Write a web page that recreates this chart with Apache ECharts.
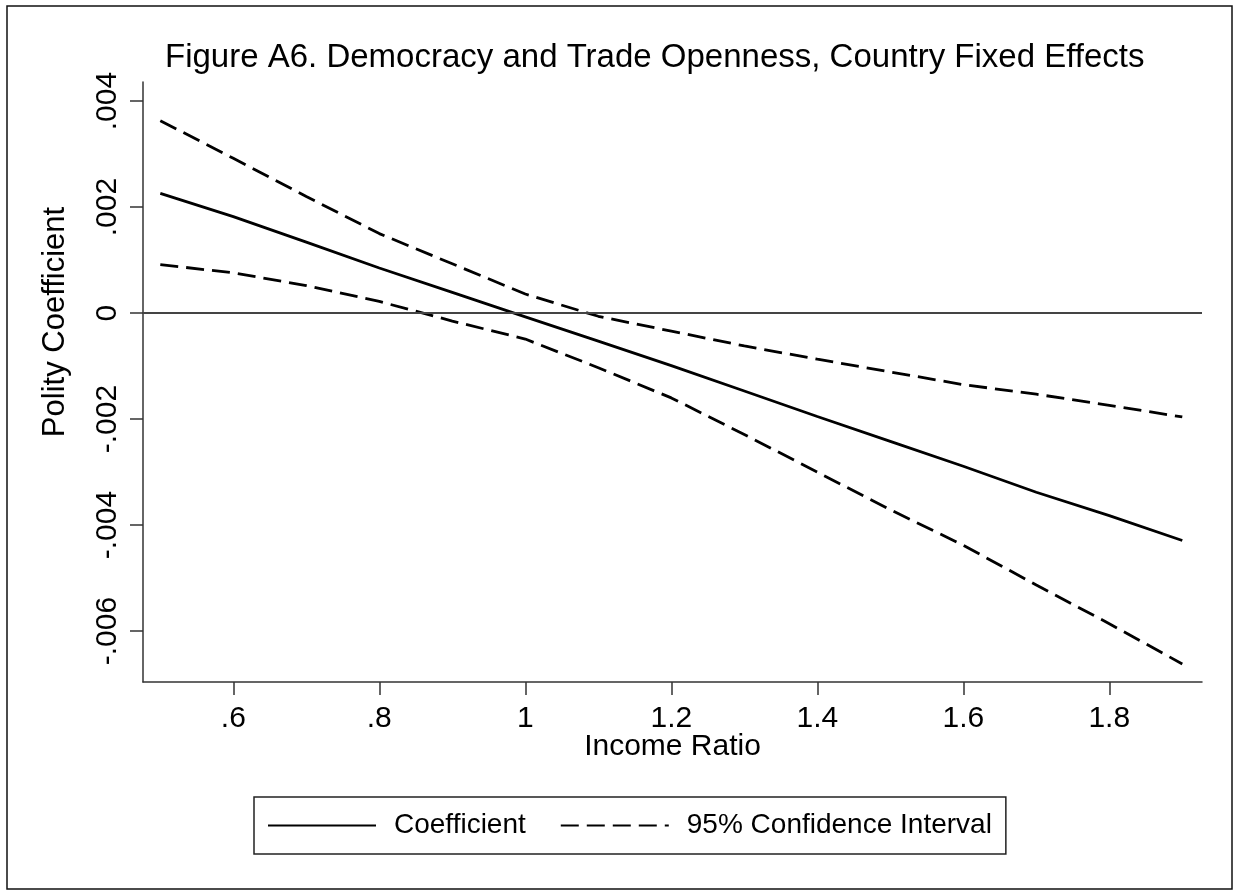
<!DOCTYPE html>
<html>
<head>
<meta charset="utf-8">
<script src="https://cdn.jsdelivr.net/npm/echarts@6/dist/echarts.min.js"></script>
<style>
html, body { margin: 0; padding: 0; background: #fff; }
#chart { width: 1233px; height: 892px; }
</style>
</head>
<body>
<div id="chart"></div>
<script>
// values
var incomeRatio = [0.5, 0.6, 0.7, 0.8, 0.9, 1.0, 1.1, 1.2, 1.3, 1.4, 1.5, 1.6, 1.7, 1.8, 1.9];
var coefficient = [0.00226, 0.00182, 0.00134, 0.00085, 0.00039, -0.00007, -0.00053, -0.00099, -0.00147, -0.00195, -0.00242, -0.00289, -0.00338, -0.00382, -0.00429];
var ciUpper = [0.00363, 0.00292, 0.00220, 0.00150, 0.00093, 0.00036, -0.00006, -0.00034, -0.00062, -0.00087, -0.00111, -0.00135, -0.00153, -0.00174, -0.00196];
var ciLower = [0.000915, 0.00076, 0.00052, 0.00022, -0.00015, -0.00049, -0.00103, -0.00160, -0.00229, -0.00300, -0.00371, -0.00438, -0.00513, -0.00586, -0.00662];
var xTicks = [0.6, 0.8, 1.0, 1.2, 1.4, 1.6, 1.8];
var yTicks = [-0.006, -0.004, -0.002, 0, 0.002, 0.004];

function pairs(ys) {
  return incomeRatio.map(function (x, i) { return [x, ys[i]]; });
}
// stata style: drop the leading zero
function stataLabel(v) {
  return String(v).replace(/^0\./, '.').replace(/^-0\./, '-.');
}

var font = 'Liberation Sans, Arial, Helvetica, sans-serif';
var chart = echarts.init(document.getElementById('chart'));

var option = {
  animation: false,
  backgroundColor: '#fff',
  title: {
    text: 'Figure A6. Democracy and Trade Openness, Country Fixed Effects',
    left: 160,
    top: 36,
    textStyle: { fontFamily: font, fontSize: 33, fontWeight: 'normal', color: '#000' }
  },
  grid: { left: 143, right: 31, top: 82, bottom: 210 },
  legend: {
    data: ['Coefficient', '95% Confidence Interval'],
    left: 254,
    top: 797,
    padding: [12, 14, 12, 13],
    borderColor: '#222',
    borderWidth: 1.5,
    itemWidth: 108,
    itemHeight: 20,
    itemGap: 34,
    itemStyle: { opacity: 0, borderWidth: 0 },
    textStyle: { fontFamily: font, fontSize: 28, color: '#000', lineHeight: 33, padding: [0, 0, 0, 13] }
  },
  xAxis: {
    type: 'value',
    min: 0.4763,
    max: 1.927,
    name: 'Income Ratio',
    nameLocation: 'middle',
    nameGap: 50,
    nameMoveOverlap: false,
    nameTextStyle: { fontFamily: font, fontSize: 30, color: '#000', verticalAlign: 'top' },
    axisLine: { onZero: false, lineStyle: { color: '#333', width: 1.5 } },
    axisTick: { length: 13, lineStyle: { color: '#333', width: 1.5 }, customValues: xTicks },
    axisLabel: { fontFamily: font, fontSize: 30, color: '#000', margin: 22, customValues: xTicks, formatter: stataLabel },
    splitLine: { show: false }
  },
  yAxis: {
    type: 'value',
    min: -0.00696,
    max: 0.00436,
    name: 'Polity Coefficient',
    nameLocation: 'middle',
    nameGap: 72,
    nameRotate: 90,
    nameMoveOverlap: false,
    nameTextStyle: { fontFamily: font, fontSize: 31, color: '#000', padding: [0, 0, 0, 120] },
    axisLine: { show: true, onZero: false, lineStyle: { color: '#333', width: 1.5 } },
    axisTick: { show: true, length: 13, lineStyle: { color: '#333', width: 1.5 }, customValues: yTicks },
    axisLabel: { fontFamily: font, fontSize: 30, color: '#000', margin: 20, rotate: 90, customValues: yTicks, formatter: stataLabel },
    splitLine: { show: false }
  },
  graphic: [{
    type: 'rect',
    shape: { x: 7, y: 6, width: 1225, height: 883 },
    style: { fill: 'none', stroke: '#111', lineWidth: 1.5 },
    silent: true
  }],
  series: [
    {
      name: 'Coefficient',
      type: 'line',
      data: pairs(coefficient),
      symbol: 'none',
      lineStyle: { color: '#000', width: 2.8, type: 'solid' },
      itemStyle: { color: '#000' },
      markLine: {
        silent: true,
        symbol: ['none', 'none'],
        label: { show: false },
        lineStyle: { color: '#444', width: 2.2, type: 'solid' },
        data: [{ yAxis: 0 }]
      }
    },
    {
      name: '95% Confidence Interval',
      type: 'line',
      data: pairs(ciUpper),
      symbol: 'none',
      lineStyle: { color: '#000', width: 2.8, type: [18, 8] },
      itemStyle: { color: '#000' }
    },
    {
      name: '95% Confidence Interval',
      type: 'line',
      data: pairs(ciLower),
      symbol: 'none',
      lineStyle: { color: '#000', width: 2.8, type: [18, 8] },
      itemStyle: { color: '#000' }
    }
  ]
};
chart.setOption(option);
</script>
</body>
</html>
